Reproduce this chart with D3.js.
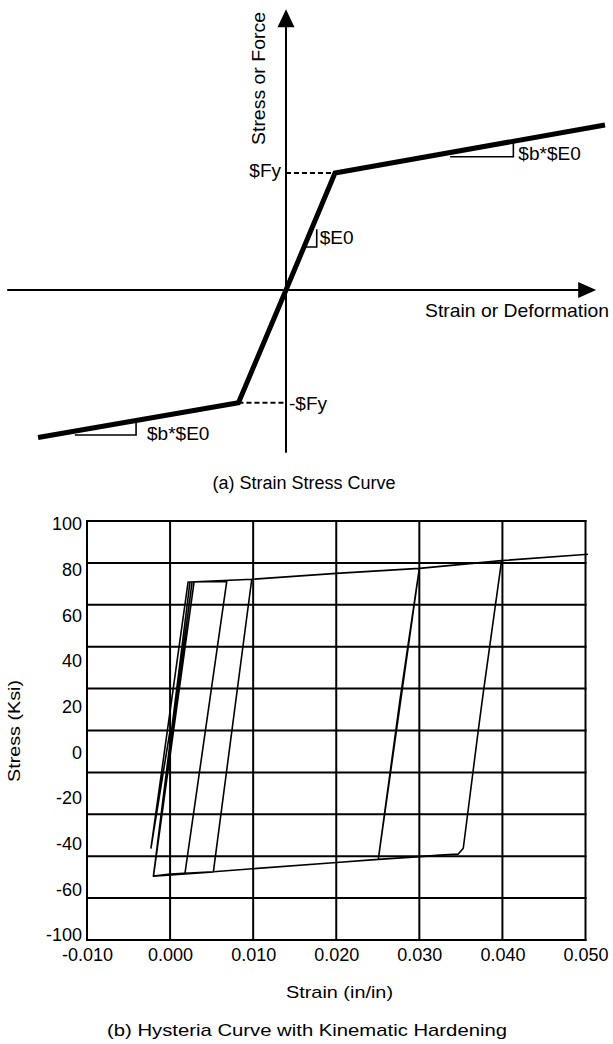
<!DOCTYPE html>
<html><head><meta charset="utf-8">
<script src="https://cdn.jsdelivr.net/npm/d3@7"></script>
<style>
html,body{margin:0;padding:0;background:#fff;}
svg{display:block;font-family:"Liberation Sans",Arial,Helvetica,sans-serif;}
</style></head><body>
<svg id="c" width="613" height="1044"></svg>
<script>
// ---------- (a) schematic bilinear curve (strain / yield strain, stress / Fy) ----------
const curveStrain = [-5.06, -0.97, 0, 1, 6.51];
const curveStress = [-1.26, -0.963, 0, 1, 1.41];
const axisStrainExtent = [-5.69, 6.33];
const axisStressExtent = [-1.39, 2.4];
const e0TriStrain = [0.3675, 0.627, 0.627];
const e0TriStress = [0.3675, 0.3675, 0.52];
const bUpTriStrain = [3.35, 4.64, 4.64];
const bUpTriStress = [1.139, 1.139, 1.271];
const bLoTriStrain = [-4.31, -3.06, -3.06];
const bLoTriStress = [-1.239, -1.239, -1.115];

// ---------- (b) hysteresis with kinematic hardening ----------
const histStrain = [0, -0.0023, 0.00217, 0.00682, 0.0018, -0.00201, 0.00265, 0.00983, 0.00521,
  -0.0020, 0.00289, 0.00983, 0.0200, 0.0300, 0.02767, 0.02506, 0.0300, 0.0399, 0.03769, 0.03709,
  0.03529, 0.03469, 0.03248, 0.03008, 0.02506, 0.01965, 0.00521, 0.0, -0.0020, 0.0024, 0.00983,
  0.0200, 0.0300, 0.0399, 0.0503];
const histStress = [0, -56.1, 70.9, 71.2, -68.0, -69.5, 70.9, 72.2, -67.5,
  -69.5, 70.9, 72.2, 75.0, 77.4, 14.6, -61.5, 77.4, 81.1, 17.8, -0.1,
  -56.2, -59.0, -59.5, -60.2, -61.5, -63.1, -67.4, -68.5, -69.5, 70.9, 72.2,
  75.0, 77.4, 81.1, 84.1];
const xTickValues = [-0.01, 0.0, 0.01, 0.02, 0.03, 0.04, 0.05];
const xTickLabels = ["-0.010", "0.000", "0.010", "0.020", "0.030", "0.040", "0.050"];
const yGridValues = [-100, -80, -60, -40, -20, 0, 20, 40, 60, 80, 100];
const yTickLabels = ["100", "80", "60", "40", "20", "0", "-20", "-40", "-60", "-100"];

const svg = d3.select("#c");

// ================= (a) =================
const xa = d3.scaleLinear().domain([0, 1]).range([286, 335]);
const ya = d3.scaleLinear().domain([0, 1]).range([290, 173]);
const ga = svg.append("g");

// axes
ga.append("line").attr("x1", xa(axisStrainExtent[0])).attr("x2", xa(axisStrainExtent[1]) - 6)
  .attr("y1", ya(0)).attr("y2", ya(0)).attr("stroke", "#000").attr("stroke-width", 2);
ga.append("line").attr("x1", xa(0)).attr("x2", xa(0))
  .attr("y1", ya(axisStressExtent[0])).attr("y2", ya(axisStressExtent[1]) + 6)
  .attr("stroke", "#000").attr("stroke-width", 2);
// arrow heads
{
  const tx = xa(axisStrainExtent[1]), ty = ya(0);
  ga.append("path").attr("d", `M${tx},${ty} L${tx - 18},${ty - 8} L${tx - 18},${ty + 8} Z`).attr("fill", "#000");
  const vx = xa(0), vy = ya(axisStressExtent[1]);
  ga.append("path").attr("d", `M${vx},${vy} L${vx - 8.5},${vy + 18} L${vx + 8.5},${vy + 18} Z`).attr("fill", "#000");
}
// dashed yield lines
ga.append("line").attr("x1", xa(0)).attr("x2", xa(curveStrain[3])).attr("y1", ya(curveStress[3])).attr("y2", ya(curveStress[3]))
  .attr("stroke", "#000").attr("stroke-width", 2).attr("stroke-dasharray", "5,3");
ga.append("line").attr("x1", xa(curveStrain[1])).attr("x2", xa(0)).attr("y1", ya(curveStress[1])).attr("y2", ya(curveStress[1]))
  .attr("stroke", "#000").attr("stroke-width", 2).attr("stroke-dasharray", "5,3");

// slope triangles
const triLine = d3.line().x(d => xa(d[0])).y(d => ya(d[1]));
[[e0TriStrain, e0TriStress], [bUpTriStrain, bUpTriStress], [bLoTriStrain, bLoTriStress]].forEach(([s, f]) => {
  ga.append("path").attr("d", triLine(d3.zip(s, f))).attr("fill", "none").attr("stroke", "#000").attr("stroke-width", 1.6);
});

// curve
ga.append("path").attr("d", triLine(d3.zip(curveStrain, curveStress)))
  .attr("fill", "none").attr("stroke", "#000").attr("stroke-width", 5).attr("stroke-linejoin", "miter");

// labels
ga.append("text").attr("x", xa(0) - 5).attr("y", ya(1) + 4).attr("text-anchor", "end").attr("font-size", 19).text("$Fy");
ga.append("text").attr("x", xa(0) + 3).attr("y", ya(curveStress[1]) + 7).attr("font-size", 19).text("-$Fy");
ga.append("text").attr("x", xa(0.627) + 3).attr("y", ya(0.3675) - 3).attr("font-size", 19).text("$E0");
ga.append("text").attr("x", xa(4.64) + 5).attr("y", ya(1.139) + 3).attr("font-size", 19).text("$b*$E0");
ga.append("text").attr("x", xa(-3.06) + 11).attr("y", ya(-1.239) + 5).attr("font-size", 19).text("$b*$E0");
ga.append("text").attr("x", 425).attr("y", 317).attr("font-size", 19)
  .attr("textLength", 184).attr("lengthAdjust", "spacingAndGlyphs").text("Strain or Deformation");
ga.append("text").attr("transform", "translate(265,78.5) rotate(-90)").attr("text-anchor", "middle").attr("font-size", 19)
  .attr("textLength", 133).attr("lengthAdjust", "spacingAndGlyphs").text("Stress or Force");
ga.append("text").attr("x", 304).attr("y", 489).attr("text-anchor", "middle").attr("font-size", 18).text("(a) Strain Stress Curve");

// ================= (b) =================
const xb = d3.scaleLinear().domain([-0.01, 0.05]).range([87, 585.5]);
const yb = d3.scaleLinear().domain([-100, 100]).range([940, 521]);
const gb = svg.append("g");

gb.selectAll("line.h").data(yGridValues).join("line").attr("class", "h")
  .attr("x1", xb(-0.01)).attr("x2", xb(0.05)).attr("y1", d => yb(d)).attr("y2", d => yb(d))
  .attr("stroke", "#000").attr("stroke-width", 2).attr("stroke-linecap", "square");
gb.selectAll("line.v").data(xTickValues).join("line").attr("class", "v")
  .attr("x1", d => xb(d)).attr("x2", d => xb(d)).attr("y1", yb(-100)).attr("y2", yb(100))
  .attr("stroke", "#000").attr("stroke-width", 2).attr("stroke-linecap", "square");

const histLine = d3.line().x(d => xb(d[0])).y(d => yb(d[1]));
gb.append("path").attr("d", histLine(d3.zip(histStrain, histStress)))
  .attr("fill", "none").attr("stroke", "#000").attr("stroke-width", 1.6).attr("stroke-linejoin", "round");

// x axis labels
const xAxis = d3.axisBottom(xb).tickValues(xTickValues).tickSize(0).tickPadding(8)
  .tickFormat((d, i) => xTickLabels[i]);
const gx = gb.append("g").attr("transform", `translate(0,${yb(-100)})`).call(xAxis);
gx.select(".domain").remove();
gx.selectAll("text").attr("font-size", 18).attr("font-family", "Liberation Sans, Arial, sans-serif").attr("fill", "#000");

// y axis labels (evenly spaced label positions as in the original figure)
const yLab = d3.scalePoint().domain(yTickLabels).range([yb(100) + 3, yb(-100) - 5]);
const gy = gb.append("g").attr("transform", `translate(${xb(-0.01)},0)`).call(d3.axisLeft(yLab).tickSize(0).tickPadding(5));
gy.select(".domain").remove();
gy.selectAll("text").attr("font-size", 18).attr("font-family", "Liberation Sans, Arial, sans-serif").attr("fill", "#000");

gb.append("text").attr("x", 339.5).attr("y", 998).attr("text-anchor", "middle").attr("font-size", 17)
  .attr("textLength", 107).attr("lengthAdjust", "spacingAndGlyphs").text("Strain (in/in)");
gb.append("text").attr("transform", "translate(20,731) rotate(-90)").attr("text-anchor", "middle").attr("font-size", 17)
  .attr("textLength", 102).attr("lengthAdjust", "spacingAndGlyphs").text("Stress (Ksi)");
gb.append("text").attr("x", 307).attr("y", 1035.5).attr("text-anchor", "middle").attr("font-size", 17)
  .attr("textLength", 400).attr("lengthAdjust", "spacingAndGlyphs").text("(b) Hysteria Curve with Kinematic Hardening");
</script>
</body></html>
